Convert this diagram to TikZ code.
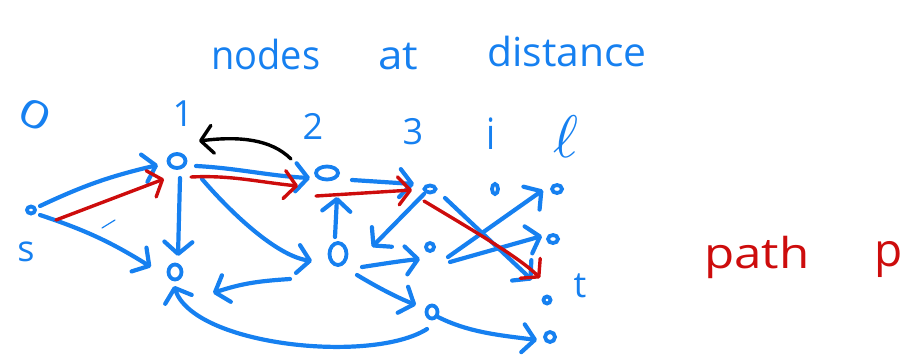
\documentclass[tikz,border=0pt]{standalone}
\usepackage{fontspec}
\setmainfont{Open Sans}
\usetikzlibrary{arrows.meta,shapes.geometric,calc}
\definecolor{hb}{RGB}{22,128,240}
\definecolor{hr}{RGB}{205,12,12}
\begin{document}
\begin{tikzpicture}[x=1pt,y=-1pt,
  vtx/.style={draw=hb, ellipse, line width=3.8pt, inner sep=0pt},
  barb/.style={-{Straight Barb[length=12pt,width=28pt,line cap=round,line join=round]}},
  be/.style={draw=hb, line width=4.2pt, line cap=round, barb},
  re/.style={draw=hr, line width=3.4pt, line cap=round, barb},
  ke/.style={draw=black, line width=3.4pt, line cap=round, barb},
  lbl/.style={text=hb, inner sep=0pt, font=\fontsize{36}{36}\selectfont},
  rlbl/.style={text=hr, inner sep=0pt, font=\fontsize{34}{34}\selectfont}]
\useasboundingbox (0,0) rectangle (909,356);

% vertices
\node[vtx, minimum width=8pt, minimum height=7pt] (s) at (31,210) {};
\node[vtx, minimum width=17pt, minimum height=14pt] (a) at (177,161) {};
\node[vtx, minimum width=13pt, minimum height=15pt] (b) at (175,272) {};
\node[vtx, minimum width=22pt, minimum height=13pt] (c) at (327,173) {};
\node[vtx, minimum width=17pt, minimum height=22pt] (d) at (338,254) {};
\node[vtx, minimum width=11pt, minimum height=7pt] (e) at (430,189) {};
\node[vtx, minimum width=8pt, minimum height=8pt] (f) at (430,247) {};
\node[vtx, minimum width=11pt, minimum height=13pt] (g) at (432,312) {};
\node[vtx, minimum width=6pt, minimum height=10pt] (h) at (495,189) {};
\node[vtx, minimum width=10pt, minimum height=8pt] (j) at (557,189) {};
\node[vtx, minimum width=10pt, minimum height=8pt] (k) at (553,239) {};
\node[vtx, minimum width=7pt, minimum height=7pt] (t) at (547,300) {};
\node[vtx, minimum width=10pt, minimum height=10pt] (m) at (550,337) {};

% level labels
\node[lbl, rotate=-25] (l0) at (35,115) {\scalebox{1.5}[1.05]{0}};
\node[lbl] (l1) at (183,114) {1};
\node[lbl] (l2) at (313,126) {2};
\node[lbl] (l3) at (413,132) {3};
\node[lbl] (li) at (491,134) {\scalebox{1}[1.2]{i}};
\node[text=hb, inner sep=0pt] (ll) at (566,137) {\scalebox{6}{$\mathbf{\ell}$}};
\node[lbl] (ls) at (26,252) {s};
\node[lbl] (lt) at (580,286) {t};

% title
\node[lbl, font=\fontsize{40}{40}\selectfont, anchor=base west] (w1) at (211,69) {\scalebox{0.95}[1]{nodes}};
\node[lbl, font=\fontsize{40}{40}\selectfont, anchor=base west] (w2) at (378,69) {\scalebox{1.1}[1]{at}};
\node[lbl, font=\fontsize{40}{40}\selectfont, anchor=base west] (w3) at (487,66) {\scalebox{1.02}[1]{distance}};

% path p
\node[rlbl, anchor=base west] (pp) at (704,268) {\scalebox{1.45}[1.25]{path}};
\node[rlbl, font=\fontsize{46}{46}\selectfont, anchor=base west] (p2) at (874,266) {p};

% blue edges
\draw[be] ($(s)+(9,-4)$) to[bend left=6] ($(a)+(-19,4)$);
\draw[be] ($(s)+(9,5)$) .. controls +(45,15) and +(-40,-25) .. ($(b)+(-24,-5)$);
\draw[be] ($(a)+(3,17)$) -- ($(b)+(3,-16)$);
\draw[be] ($(a)+(19,5)$) .. controls +(40,2) and +(-40,-2) .. ($(c)+(-17,5)$);
\draw[be] ($(a)+(25,18)$) .. controls +(30,35) and +(-35,-5) .. ($(d)+(-26,7)$);
\draw[be] ($(d)+(-48,25)$) .. controls +(-30,2) and +(30,-10) .. ($(b)+(38,21)$);
\draw[be] ($(c)+(25,7)$) -- ($(e)+(-16,-5)$);
\draw[be] ($(d)+(-3,-17)$) -- ($(c)+(10,24)$);
\draw[be] ($(e)+(-6,5)$) -- ($(d)+(34,-7)$);
\draw[be] ($(e)+(15,9)$) -- ($(t)+(-15,-20)$);
\draw[be] ($(d)+(24,13)$) .. controls +(20,-3) and +(-20,2) .. ($(f)+(-10,12)$);
\draw[be] ($(f)+(18,10)$) -- ($(j)+(-14,1)$);
\draw[be] ($(f)+(20,15)$) -- ($(k)+(-11,-3)$);
\draw[be] ($(d)+(19,21)$) .. controls +(20,12) and +(-20,-8) .. ($(g)+(-16,-7)$);
\draw[be] ($(g)+(6,5)$) .. controls +(30,15) and +(-40,-5) .. ($(m)+(-13,3)$);
\draw[be] ($(g)+(-5,17)$) .. controls +(-55,35) and +(20,60) .. ($(b)+(-1,14)$);

% red path
\draw[re] ($(s)+(25,10)$) -- ($(a)+(-13,18)$);
\draw[re] ($(a)+(14,16)$) .. controls +(40,-2) and +(-40,-4) .. ($(c)+(-29,13)$);
\draw[re] ($(c)+(-11,23)$) -- ($(e)+(-18,1)$);
\draw[re] ($(e)+(-6,12)$) .. controls +(50,30) and +(-20,-20) .. ($(t)+(-7,-22)$);

% black edge
\draw[ke] ($(c)+(-36,-14)$) .. controls +(-20,-20) and +(40,-5) .. ($(a)+(22,-20)$);

% stray mark
\draw[hb, line width=1.2pt, line cap=round] ($(s)+(71,18)$) -- ($(s)+(84,10)$);
\end{tikzpicture}
\end{document}
